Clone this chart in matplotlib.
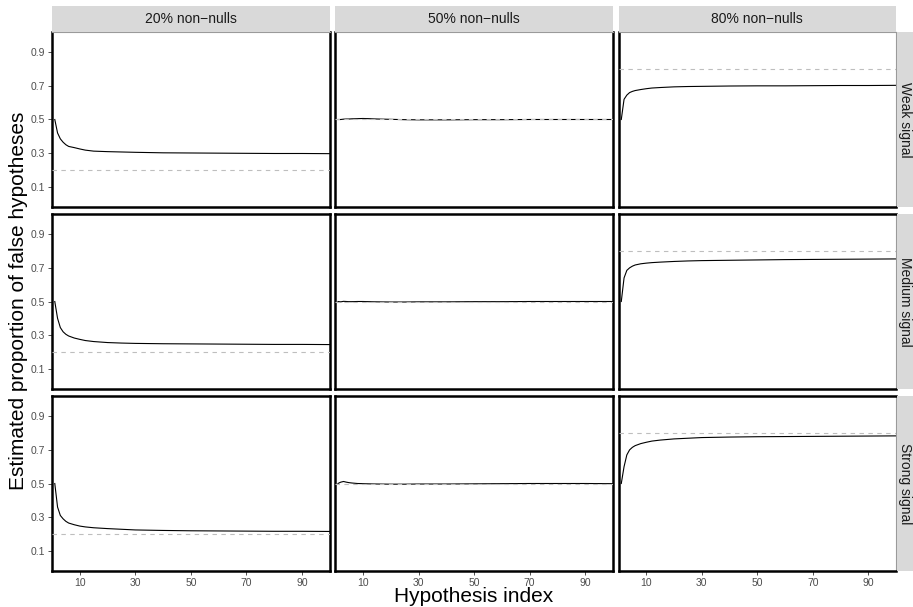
import matplotlib
matplotlib.use("Agg")
import matplotlib.pyplot as plt

plt.rcParams['font.family'] = ['Liberation Sans', 'DejaVu Sans']

# hypothesis index where the estimate was read off
x_idx = [1, 2, 3, 4, 5, 6, 8, 10, 12, 15, 20, 25, 30, 40, 50, 60, 70, 80, 90, 100]

col_labels = ["20% non\u2212nulls", "50% non\u2212nulls", "80% non\u2212nulls"]
row_labels = ["Weak signal", "Medium signal", "Strong signal"]
true_prop = [0.2, 0.5, 0.8]

weak_20 = [0.50, 0.42, 0.385, 0.365, 0.35, 0.34, 0.333, 0.325, 0.318, 0.312,
           0.309, 0.307, 0.305, 0.302, 0.301, 0.300, 0.299, 0.298, 0.298, 0.297]
weak_50 = [0.50, 0.50, 0.502, 0.503, 0.503, 0.504, 0.505, 0.506, 0.505, 0.503,
           0.501, 0.499, 0.498, 0.498, 0.499, 0.499, 0.500, 0.500, 0.500, 0.500]
weak_80 = [0.50, 0.62, 0.645, 0.66, 0.667, 0.672, 0.678, 0.683, 0.687, 0.690,
           0.694, 0.696, 0.697, 0.699, 0.700, 0.700, 0.701, 0.702, 0.702, 0.703]

medium_20 = [0.50, 0.40, 0.345, 0.32, 0.305, 0.295, 0.283, 0.275, 0.268, 0.262,
             0.256, 0.253, 0.251, 0.249, 0.248, 0.247, 0.246, 0.245, 0.245, 0.244]
medium_50 = [0.50, 0.498, 0.501, 0.500, 0.499, 0.499, 0.500, 0.500, 0.499, 0.498,
             0.497, 0.497, 0.498, 0.498, 0.499, 0.499, 0.500, 0.500, 0.500, 0.500]
medium_80 = [0.50, 0.64, 0.685, 0.70, 0.71, 0.717, 0.724, 0.728, 0.731, 0.734,
             0.738, 0.741, 0.743, 0.745, 0.747, 0.749, 0.750, 0.751, 0.752, 0.753]

strong_20 = [0.50, 0.36, 0.31, 0.29, 0.275, 0.265, 0.255, 0.247, 0.242, 0.237,
             0.232, 0.228, 0.224, 0.221, 0.219, 0.218, 0.217, 0.216, 0.216, 0.215]
strong_50 = [0.50, 0.508, 0.512, 0.508, 0.505, 0.503, 0.500, 0.499, 0.498, 0.497,
             0.496, 0.496, 0.497, 0.497, 0.498, 0.499, 0.500, 0.500, 0.500, 0.499]
strong_80 = [0.50, 0.60, 0.67, 0.70, 0.715, 0.725, 0.737, 0.745, 0.752, 0.758,
             0.765, 0.769, 0.773, 0.776, 0.778, 0.779, 0.780, 0.781, 0.782, 0.783]

grid = [[weak_20, weak_50, weak_80],
        [medium_20, medium_50, medium_80],
        [strong_20, strong_50, strong_80]]

W, H = 913, 607
fig = plt.figure(figsize=(W / 100, H / 100), dpi=100)

# panel layout in pixels
col_left = [52, 335.2, 618.5]
pw = 277.7
row_top = [32, 214, 396]
ph = 175

def px_axes(l, t, w, h):
    return fig.add_axes([l / W, 1 - (t + h) / H, w / W, h / H])

for r in range(3):
    for c in range(3):
        ax = px_axes(col_left[c], row_top[r], pw, ph)
        ax.axhline(true_prop[c], color='#bebebe', lw=0.8, ls=(0, (4, 4)), zorder=3)
        ax.plot(x_idx, grid[r][c], color='black', lw=0.8, zorder=2)
        ax.set_xlim(0, 100)
        ax.set_ylim(-0.02, 1.02)
        ax.set_xticks([10, 30, 50, 70, 90])
        ax.set_yticks([0.1, 0.3, 0.5, 0.7, 0.9])
        ax.tick_params(length=3, width=0.6, color='#333333', labelsize=7.5,
                       labelcolor='#4d4d4d', pad=2)
        if c > 0:
            ax.tick_params(axis='y', left=False, labelleft=False)
        if r < 2:
            ax.tick_params(axis='x', bottom=False, labelbottom=False)
        for side, sp in ax.spines.items():
            sp.set_color('black')
            sp.set_linewidth(1.8)
        if r == 0:
            ax.spines['top'].set_color('#9a9a9a')
            ax.spines['top'].set_linewidth(0.8)
        if c == 2:
            ax.spines['right'].set_color('#9a9a9a')
            ax.spines['right'].set_linewidth(0.8)

# top strips
for c in range(3):
    s = px_axes(col_left[c], 6, pw, 25.5)
    s.set_facecolor('#d9d9d9')
    s.set_xticks([]); s.set_yticks([])
    for sp in s.spines.values():
        sp.set_visible(False)
    s.text(0.5, 0.5, col_labels[c], ha='center', va='center', fontsize=10,
           color='#1a1a1a', transform=s.transAxes)

# right strips
for r in range(3):
    s = px_axes(896.5, row_top[r], 16.5, ph)
    s.set_facecolor('#d9d9d9')
    s.set_xticks([]); s.set_yticks([])
    for sp in s.spines.values():
        sp.set_visible(False)
    s.text(0.5, 0.5, row_labels[r], ha='center', va='center', fontsize=10,
           color='#1a1a1a', rotation=270, transform=s.transAxes)

fig.text(474 / W, 1 - 602 / H, "Hypothesis index", ha='center', va='baseline',
         fontsize=15, color='black')
fig.text(19 / W, 1 - 301 / H, "Estimated proportion of false hypotheses",
         ha='center', va='center', rotation=90, fontsize=15, color='black')

fig.savefig("out.png", dpi=100)
